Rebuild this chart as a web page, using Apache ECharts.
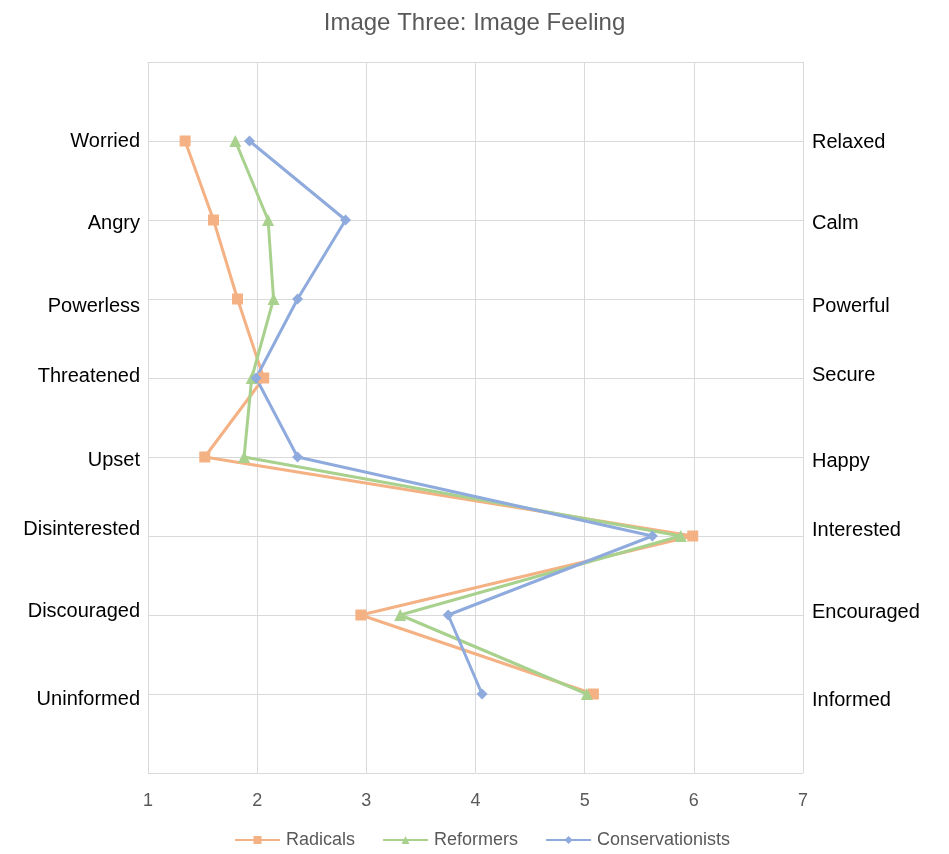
<!DOCTYPE html>
<html>
<head>
<meta charset="utf-8">
<script src="https://cdn.jsdelivr.net/npm/echarts@6/dist/echarts.min.js"></script>
<style>
html,body{margin:0;padding:0;background:#fff;}
#chart{width:949px;height:854px;}
</style>
</head>
<body>
<div id="chart"></div>
<script>
// ---- data ----
var leftLabels = ['Worried','Angry','Powerless','Threatened','Upset','Disinterested','Discouraged','Uninformed'];
var rightLabels = ['Relaxed','Calm','Powerful','Secure','Happy','Interested','Encouraged','Informed'];
var seriesNames = ['Radicals','Reformers','Conservationists'];
var radicals = [1.34, 1.60, 1.82, 2.06, 1.52, 5.99, 2.95, 5.08];
var reformers = [1.80, 2.10, 2.15, 1.95, 1.88, 5.88, 3.31, 5.02];
var conservationists = [1.93, 2.81, 2.37, 1.99, 2.37, 5.62, 3.75, 4.06];
var xTicks = [1, 2, 3, 4, 5, 6, 7];

// ---- styling ----
var FONT = '"Liberation Sans", Arial, sans-serif';
var GRID = '#D9D9D9';
var TXT = '#595959';
var colors = ['#F4B183', '#A9D18E', '#8FAADC'];
var symbols = ['rect', 'triangle', 'diamond'];
var symbolSizes = [11, 12, 11];
// small vertical nudges of the side labels (px, + = down)
var leftNudge = [0, 3, 7, -2, 3, -7, -4, 5];
var rightNudge = [1, 3, 7, -3, 4, -6, -3, 6];

function richFor(nudges, align) {
  var r = {};
  nudges.forEach(function (d, i) {
    var pad = d >= 0 ? [2 * d, 0, 0, 0] : [0, 0, -2 * d, 0];
    r['n' + i] = {fontSize: 20, color: '#000', fontFamily: FONT, padding: pad, align: align};
  });
  return r;
}

function toPts(arr) { return arr.map(function (v, i) { return [v, i + 1]; }); }
var allData = [radicals, reformers, conservationists];

var chart = echarts.init(document.getElementById('chart'), null, {renderer: 'canvas'});
chart.setOption({
  backgroundColor: '#fff',
  animation: false,
  title: {
    text: 'Image Three: Image Feeling',
    left: 'center',
    top: 6,
    textStyle: {fontFamily: FONT, fontSize: 24, fontWeight: 'normal', color: TXT}
  },
  legend: {
    bottom: 0,
    left: 229,
    itemWidth: 45,
    itemHeight: 10,
    itemGap: 27,
    textStyle: {fontFamily: FONT, fontSize: 18, color: TXT, padding: [0, 0, 0, 1]},
    data: seriesNames
  },
  grid: {left: 148, right: 146, top: 62, bottom: 81, containLabel: false},
  xAxis: {
    type: 'value',
    min: xTicks[0],
    max: xTicks[xTicks.length - 1],
    interval: 1,
    axisLine: {show: true, lineStyle: {color: GRID, width: 1}},
    axisTick: {show: false},
    splitLine: {show: true, lineStyle: {color: GRID, width: 1}},
    axisLabel: {fontFamily: FONT, fontSize: 18, color: TXT, margin: 19}
  },
  yAxis: [
    {
      type: 'value',
      inverse: true,
      min: 0,
      max: 9,
      interval: 1,
      position: 'left',
      axisLine: {show: false},
      axisTick: {show: false},
      splitLine: {show: true, lineStyle: {color: GRID, width: 1}},
      axisLabel: {
        margin: 8,
        formatter: function (v) {
          var i = Math.round(v) - 1;
          if (i < 0 || i >= leftLabels.length) return '';
          return '{n' + i + '|' + leftLabels[i] + '}';
        },
        rich: richFor(leftNudge, 'right')
      }
    },
    {
      type: 'value',
      inverse: true,
      min: 0,
      max: 9,
      interval: 1,
      position: 'right',
      axisLine: {show: false},
      axisTick: {show: false},
      splitLine: {show: false},
      axisLabel: {
        margin: 9,
        formatter: function (v) {
          var i = Math.round(v) - 1;
          if (i < 0 || i >= rightLabels.length) return '';
          return '{n' + i + '|' + rightLabels[i] + '}';
        },
        rich: richFor(rightNudge, 'left')
      }
    }
  ],
  series: seriesNames.map(function (name, k) {
    return {
      name: name,
      type: 'line',
      yAxisIndex: 0,
      data: toPts(allData[k]),
      symbol: symbols[k],
      symbolSize: symbolSizes[k],
      showSymbol: true,
      lineStyle: {color: colors[k], width: 3},
      itemStyle: {color: colors[k], borderWidth: 0},
      emphasis: {disabled: true}
    };
  })
});
</script>
</body>
</html>
